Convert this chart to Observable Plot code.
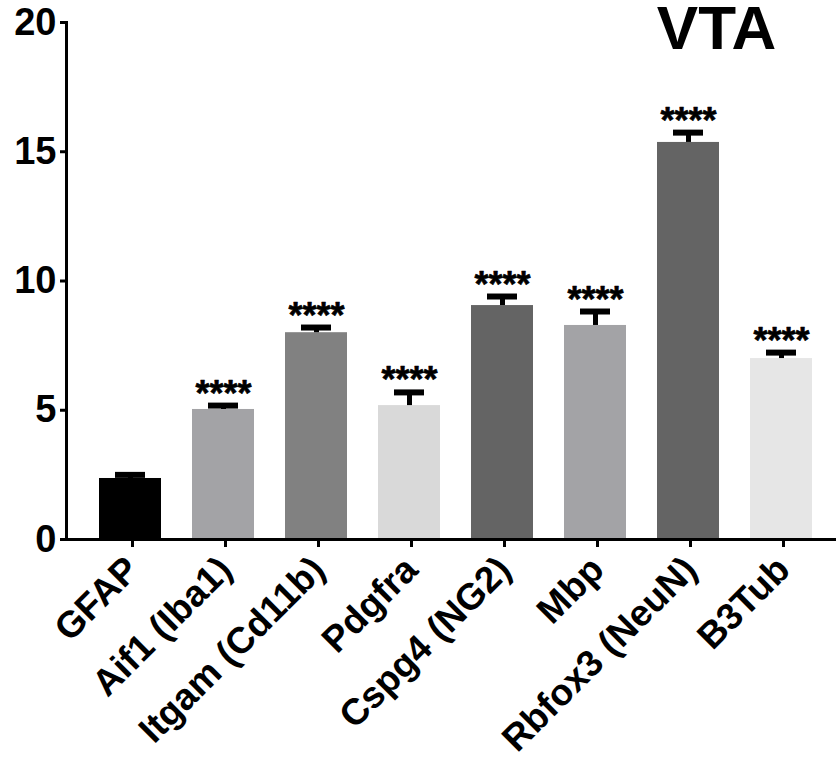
<!DOCTYPE html>
<html>
<head>
<meta charset="utf-8">
<script src="https://cdn.jsdelivr.net/npm/d3@7"></script>
<script src="https://cdn.jsdelivr.net/npm/@observablehq/plot@0.6"></script>
<style>
  html, body { margin: 0; padding: 0; background: #fff; }
  #chart { position: relative; width: 836px; height: 763px; }
  svg { font-family: "Liberation Sans", Arial, sans-serif; }
</style>
</head>
<body>
<div id="chart"></div>
<script>
const genes = ["GFAP", "Aif1 (Iba1)", "Itgam (Cd11b)", "Pdgfra", "Cspg4 (NG2)", "Mbp", "Rbfox3 (NeuN)", "B3Tub"];
const means = [2.36, 5.03, 8.0, 5.18, 9.05, 8.28, 15.36, 7.0];
const upper = [2.5, 5.18, 8.2, 5.69, 9.4, 8.82, 15.74, 7.23];
const fills = ["#000000", "#a3a3a6", "#818181", "#d9d9d9", "#646464", "#a3a3a6", "#646464", "#e6e6e6"];
const sig = ["", "****", "****", "****", "****", "****", "****", "****"];
const yTicks = [0, 5, 10, 15, 20];
const title = "VTA";

const data = genes.map((g, i) => ({gene: g, mean: means[i], upper: upper[i], fill: fills[i], sig: sig[i]}));

const chart = Plot.plot({
  width: 836,
  height: 763,
  marginLeft: 66,
  marginRight: 0,
  marginTop: 22,
  marginBottom: 224,
  style: {fontFamily: '"Liberation Sans", Arial, sans-serif', color: "#000", background: "#fff"},
  x: {domain: genes, range: [98, 812], paddingInner: 0.334, paddingOuter: 0, label: null},
  y: {domain: [0, 20], label: null},
  marks: [
    Plot.barY(data, {x: "gene", y: "mean", fill: "fill"}),
    Plot.ruleX(data, {x: "gene", y1: "mean", y2: "upper", stroke: "#000", strokeWidth: 5}),
    Plot.tickY(data, {x: "gene", y: "upper", stroke: "#000", strokeWidth: 6, insetLeft: 16, insetRight: 16}),
    Plot.text(data, {x: "gene", y: "upper", text: "sig", fontSize: 36, fontWeight: "bold", lineAnchor: "bottom", dy: 0, fill: "#000", stroke: "#000", strokeWidth: 0.6}),
    Plot.frame({anchor: "left", stroke: "#000", strokeWidth: 3}),
    Plot.ruleY([0], {stroke: "#000", strokeWidth: 3}),
    Plot.axisY({ticks: yTicks, tickSize: 6, tickPadding: 4, strokeWidth: 3, fontSize: 38, fontWeight: "bold", label: null}),
    Plot.axisX({tickSize: 8, tickPadding: 16, strokeWidth: 3, tickRotate: -45, fontSize: 37, fontWeight: "bold", dx: 2, label: null}),
    Plot.text([title], {frameAnchor: "top-right", dx: -120, dy: 26, lineAnchor: "bottom", textAnchor: "middle", fontSize: 62, fontWeight: "bold", fill: "#000"})
  ]
});
document.getElementById("chart").appendChild(chart);
</script>
</body>
</html>
